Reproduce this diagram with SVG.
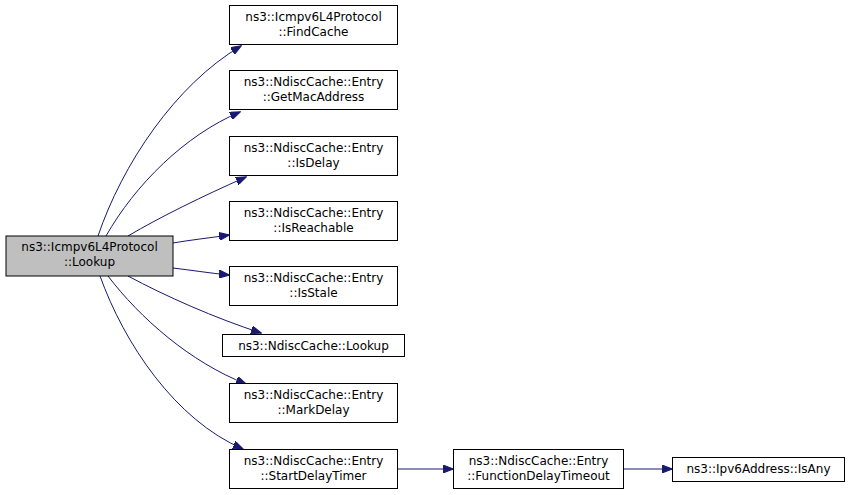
<svg xmlns="http://www.w3.org/2000/svg" width="851" height="495" viewBox="0 0 851 495">
<style>
.n rect{fill:#fff;stroke:#000;stroke-width:1}
.n text,.m text{font-family:"DejaVu Sans",sans-serif;font-size:12px;text-anchor:middle;fill:#000}
.m rect{fill:#bfbfbf;stroke:#000;stroke-width:1}
.e path{fill:none;stroke:#191970;stroke-width:1}
</style>
<defs>
<marker id="a" markerWidth="11" markerHeight="8" refX="10" refY="4" orient="auto" markerUnits="userSpaceOnUse">
<path d="M0,0 L10.5,4 L0,8 Z" fill="#191970" stroke="#191970"/>
</marker>
</defs>
<rect width="851" height="495" fill="#fff"/>
<g id="edges" class="e">
<path d="M98,236 C122,165 175,85 241,46" marker-end="url(#a)"/>
<path d="M106,236 C135,185 185,135 240,112" marker-end="url(#a)"/>
<path d="M128,236 C160,217 203,196 246,177" marker-end="url(#a)"/>
<path d="M173,243 C190,240 209,238 229,235" marker-end="url(#a)"/>
<path d="M173,268 C190,270 209,273 229,275" marker-end="url(#a)"/>
<path d="M128,276 C165,296 215,318 261,333" marker-end="url(#a)"/>
<path d="M108,276 C140,318 190,362 246,384" marker-end="url(#a)"/>
<path d="M100,276 C124,343 175,420 243,449" marker-end="url(#a)"/>
<path d="M397,469 L453,469" marker-end="url(#a)"/>
<path d="M624,469 L672,469" marker-end="url(#a)"/>
</g>
<g id="node-main" class="m"><rect x="6" y="236" width="167" height="40"/><text x="89.5" y="251">ns3::Icmpv6L4Protocol</text><text x="89.5" y="266">::Lookup</text></g>
<g id="node-findcache" class="n"><rect x="229.5" y="5.5" width="168" height="39"/><text x="313.5" y="21">ns3::Icmpv6L4Protocol</text><text x="313.5" y="36">::FindCache</text></g>
<g id="node-getmac" class="n"><rect x="229.5" y="70.5" width="168" height="39"/><text x="313.5" y="86">ns3::NdiscCache::Entry</text><text x="313.5" y="101">::GetMacAddress</text></g>
<g id="node-isdelay" class="n"><rect x="229.5" y="136.5" width="168" height="39"/><text x="313.5" y="152">ns3::NdiscCache::Entry</text><text x="313.5" y="167">::IsDelay</text></g>
<g id="node-isreachable" class="n"><rect x="229.5" y="201.5" width="168" height="39"/><text x="313.5" y="217">ns3::NdiscCache::Entry</text><text x="313.5" y="232">::IsReachable</text></g>
<g id="node-isstale" class="n"><rect x="229.5" y="266.5" width="168" height="39"/><text x="313.5" y="282">ns3::NdiscCache::Entry</text><text x="313.5" y="297">::IsStale</text></g>
<g id="node-lookup" class="n"><rect x="222.5" y="334.5" width="182" height="22"/><text x="313.5" y="350">ns3::NdiscCache::Lookup</text></g>
<g id="node-markdelay" class="n"><rect x="229.5" y="383.5" width="168" height="39"/><text x="313.5" y="399">ns3::NdiscCache::Entry</text><text x="313.5" y="414">::MarkDelay</text></g>
<g id="node-startdelay" class="n"><rect x="229.5" y="449.5" width="168" height="39"/><text x="313.5" y="465">ns3::NdiscCache::Entry</text><text x="313.5" y="480">::StartDelayTimer</text></g>
<g id="node-fdt" class="n"><rect x="453.5" y="449.5" width="170" height="39"/><text x="538.5" y="465">ns3::NdiscCache::Entry</text><text x="538.5" y="480">::FunctionDelayTimeout</text></g>
<g id="node-isany" class="n"><rect x="672.5" y="457.5" width="172" height="24"/><text x="758.5" y="473">ns3::Ipv6Address::IsAny</text></g>
</svg>
